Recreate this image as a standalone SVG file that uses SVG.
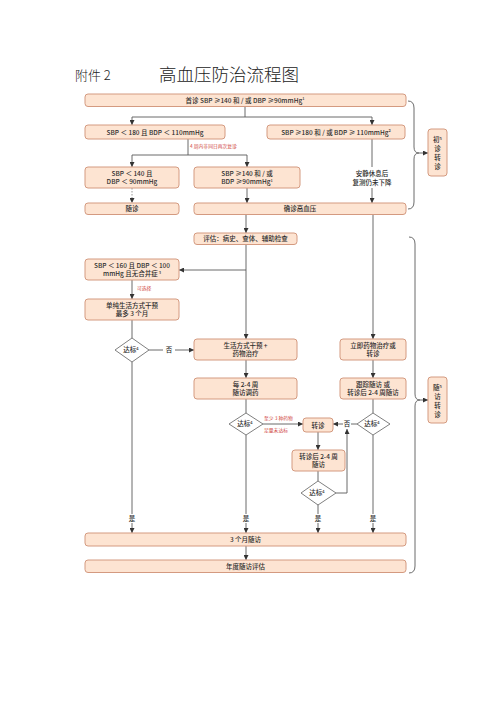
<svg xmlns="http://www.w3.org/2000/svg" width="500" height="707" viewBox="0 0 500 707">
<style>
.bg{fill:#ffffff}
.box{fill:#fde4d2;stroke:#d49a80;stroke-width:1}
.dia{fill:#ffffff;stroke:#707070;stroke-width:0.9}
.t{font-family:"Noto Sans CJK SC","Noto Sans",sans-serif;font-size:6.5px;fill:#2d2d2d;text-anchor:middle;font-weight:500}
.r{font-family:"Noto Sans CJK SC","Noto Sans",sans-serif;font-size:4.8px;fill:#d0453e;text-anchor:start}
.ln{fill:none;stroke:#5a5a5a;stroke-width:0.9}
.dash{fill:none;stroke:#8a8a8a;stroke-width:0.9;stroke-dasharray:1.5,1.5}
.ttl{font-family:"Noto Sans CJK SC",sans-serif;fill:#222;font-weight:300}
.sup{font-size:4px}
</style>
<defs>
<marker id="ah" markerWidth="5" markerHeight="5" refX="5" refY="2.5" orient="auto" markerUnits="userSpaceOnUse">
<path d="M0,0 L5,2.5 L0,5 z" fill="#333"/>
</marker>
</defs>
<rect class="bg" x="0" y="0" width="500" height="707"/>
<text class="ttl" x="75" y="80" font-size="13">附件 2</text>
<text class="ttl" x="159" y="81" font-size="17.5">高血压防治流程图</text>

<g id="connectors">
<path class="ln" d="M245,107 V117 M132,117 H372"/>
<path class="ln" d="M132,117 V125" marker-end="url(#ah)"/>
<path class="ln" d="M372,117 V125" marker-end="url(#ah)"/>
<path class="ln" d="M188,139 V155 M132,155 H247"/>
<path class="ln" d="M132,155 V167" marker-end="url(#ah)"/>
<path class="ln" d="M247,155 V167" marker-end="url(#ah)"/>
<path class="ln" d="M372,139 V167"/>
<path class="ln" d="M372,188 V203" marker-end="url(#ah)"/>
<path class="dash" d="M132,188 V203" marker-end="url(#ah)"/>
<path class="ln" d="M247,188 V203" marker-end="url(#ah)"/>
<path class="ln" d="M246,214 V233" marker-end="url(#ah)"/>
<path class="ln" d="M373,214 V339" marker-end="url(#ah)"/>
<path class="ln" d="M246,244 V339" marker-end="url(#ah)"/>
<path class="ln" d="M246,270 H179" marker-end="url(#ah)"/>
<path class="ln" d="M132,280 V299" marker-end="url(#ah)"/>
<path class="ln" d="M132,320 V338"/>
<path class="ln" d="M149,350 H163"/>
<path class="ln" d="M175,350 H194" marker-end="url(#ah)"/>
<path class="ln" d="M132,362 V514"/>
<path class="ln" d="M132,523 V533" marker-end="url(#ah)"/>
<path class="ln" d="M246,360 V378" marker-end="url(#ah)"/>
<path class="ln" d="M246,399 V413"/>
<path class="ln" d="M263,424 H303" marker-end="url(#ah)"/>
<path class="ln" d="M246,435 V514"/>
<path class="ln" d="M246,523 V533" marker-end="url(#ah)"/>
<path class="ln" d="M373,360 V378" marker-end="url(#ah)"/>
<path class="ln" d="M373,399 V413"/>
<path class="ln" d="M357,424 H351"/>
<path class="ln" d="M343,424 H333" marker-end="url(#ah)"/>
<path class="ln" d="M373,435 V514"/>
<path class="ln" d="M373,523 V533" marker-end="url(#ah)"/>
<path class="ln" d="M318,432 V450" marker-end="url(#ah)"/>
<path class="ln" d="M318,471 V481"/>
<path class="ln" d="M336,493 H347 V429" marker-end="url(#ah)"/>
<path class="ln" d="M318,504 V514"/>
<path class="ln" d="M318,523 V533" marker-end="url(#ah)"/>
<path class="ln" d="M246,546 V560" marker-end="url(#ah)"/>
<path class="ln" d="M408,101 Q414,101 414,108 V147 Q414,153 419,153 Q414,153 414,159 V202 Q414,209 408,209"/>
<path class="ln" d="M419,153 H428" marker-end="url(#ah)"/>
<path class="ln" d="M409,237 Q415,237 415,244 V394 Q415,400 420,400 Q415,400 415,406 V566 Q415,573 409,573"/>
<path class="ln" d="M420,400 H428" marker-end="url(#ah)"/>
<text class="t" x="169" y="352.3">否</text>
<text class="t" x="347" y="426.3">否</text>
<text class="t" x="132" y="521.3">是</text>
<text class="t" x="246" y="521.3">是</text>
<text class="t" x="318" y="521.3">是</text>
<text class="t" x="373" y="521.3">是</text>
<text class="r" x="190" y="148">4 周内非同日再次复诊</text>
<text class="r" x="137" y="290">可选择</text>
<text class="r" x="264" y="420">至少 3 种药物</text>
<text class="r" x="264" y="432">足量未达标</text>
<text class="t" x="372" y="176">安静休息后</text>
<text class="t" x="372" y="184.5">复测仍未下降</text>
</g>

<g id="n1"><rect class="box" x="85" y="94" width="321" height="12.5" rx="3"/><text class="t" x="245" y="102.5">首诊 SBP ≥140 和 / 或 DBP ≥90mmHg<tspan class="sup" dy="-2.5">1</tspan></text></g>
<g id="n2"><rect class="box" x="85" y="125" width="140" height="14" rx="3"/><text class="t" x="155" y="134.5">SBP ＜ 180 且 BDP ＜ 110mmHg</text></g>
<g id="n3"><rect class="box" x="267" y="125" width="138" height="14" rx="3"/><text class="t" x="336" y="134.5">SBP ≥180 和 / 或 BDP ≥ 110mmHg<tspan class="sup" dy="-2.5">2</tspan></text></g>
<g id="n4"><rect class="box" x="85" y="167" width="94" height="21" rx="3"/><text class="t" x="132" y="175.5">SBP ＜ 140 且</text><text class="t" x="132" y="184">DBP ＜ 90mmHg</text></g>
<g id="n5"><rect class="box" x="194" y="167" width="106" height="21" rx="3"/><text class="t" x="247" y="175.5">SBP ≥140 和 / 或</text><text class="t" x="247" y="184">BDP ≥90mmHg<tspan class="sup" dy="-2.5">1</tspan></text></g>
<g id="n6"><rect class="box" x="85" y="203" width="94" height="11.5" rx="3"/><text class="t" x="132" y="211">随诊</text></g>
<g id="n7"><rect class="box" x="194" y="203" width="212" height="11.5" rx="3"/><text class="t" x="300" y="211">确诊高血压</text></g>
<g id="n8"><rect class="box" x="194" y="233" width="103" height="11.5" rx="3"/><text class="t" x="245.5" y="241">评估：病史、查体、辅助检查</text></g>
<g id="n9"><rect class="box" x="85" y="259" width="94" height="21" rx="3"/><text class="t" x="132" y="267.5">SBP ＜ 160 且 DBP ＜ 100</text><text class="t" x="132" y="276">mmHg 且无合并症<tspan class="sup" dy="-2.5"> 3</tspan></text></g>
<g id="n10"><rect class="box" x="85" y="299" width="94" height="21" rx="3"/><text class="t" x="132" y="307.5">单纯生活方式干预</text><text class="t" x="132" y="316">最多 3 个月</text></g>
<g id="d1"><path class="dia" d="M132,338 L149,350 L132,362 L115,350 Z"/><text class="t" x="131" y="352.3">达标<tspan class="sup" dy="-2.5">4</tspan></text></g>
<g id="n11"><rect class="box" x="194" y="339" width="103" height="21" rx="3"/><text class="t" x="245.5" y="347.5">生活方式干预 +</text><text class="t" x="245.5" y="356">药物治疗</text></g>
<g id="n12"><rect class="box" x="340" y="339" width="66" height="21" rx="3"/><text class="t" x="373" y="347.5">立即药物治疗或</text><text class="t" x="373" y="356">转诊</text></g>
<g id="n13"><rect class="box" x="194" y="378" width="103" height="21" rx="3"/><text class="t" x="245.5" y="386.5">每 2-4 周</text><text class="t" x="245.5" y="395">随访调药</text></g>
<g id="n14"><rect class="box" x="340" y="378" width="66" height="21" rx="3"/><text class="t" x="373" y="386.5">跟踪随访 或</text><text class="t" x="373" y="395">转诊后 2-4 周随访</text></g>
<g id="d2"><path class="dia" d="M246,413 L263,424 L246,435 L229,424 Z"/><text class="t" x="245" y="426.3">达标<tspan class="sup" dy="-2.5">4</tspan></text></g>
<g id="n15"><rect class="box" x="303" y="418" width="30" height="14" rx="3"/><text class="t" x="318" y="427.5">转诊</text></g>
<g id="d3"><path class="dia" d="M373,413 L390,424 L373,435 L357,424 Z"/><text class="t" x="372" y="426.3">达标<tspan class="sup" dy="-2.5">4</tspan></text></g>
<g id="n16"><rect class="box" x="292" y="450" width="53" height="21" rx="3"/><text class="t" x="318.5" y="458.5">转诊后 2-4 周</text><text class="t" x="318.5" y="467">随访</text></g>
<g id="d4"><path class="dia" d="M318,481 L336,493 L318,505 L301,493 Z"/><text class="t" x="317" y="495.3">达标<tspan class="sup" dy="-2.5">4</tspan></text></g>
<g id="n17"><rect class="box" x="85" y="533" width="321" height="13" rx="3"/><text class="t" x="245.5" y="542">3 个月随访</text></g>
<g id="n18"><rect class="box" x="85" y="560" width="321" height="12.5" rx="3"/><text class="t" x="245.5" y="568.5">年度随访评估</text></g>
<g id="n19"><rect class="box" x="428" y="129" width="19" height="47" rx="3"/><text class="t" x="437.5" y="142">初<tspan class="sup" dy="-2.5">5</tspan></text><text class="t" x="437.5" y="151">诊</text><text class="t" x="437.5" y="160">转</text><text class="t" x="437.5" y="169">诊</text></g>
<g id="n20"><rect class="box" x="428" y="377" width="19" height="46" rx="3"/><text class="t" x="437.5" y="390">随<tspan class="sup" dy="-2.5">5</tspan></text><text class="t" x="437.5" y="399">访</text><text class="t" x="437.5" y="408">转</text><text class="t" x="437.5" y="417">诊</text></g>
</svg>
